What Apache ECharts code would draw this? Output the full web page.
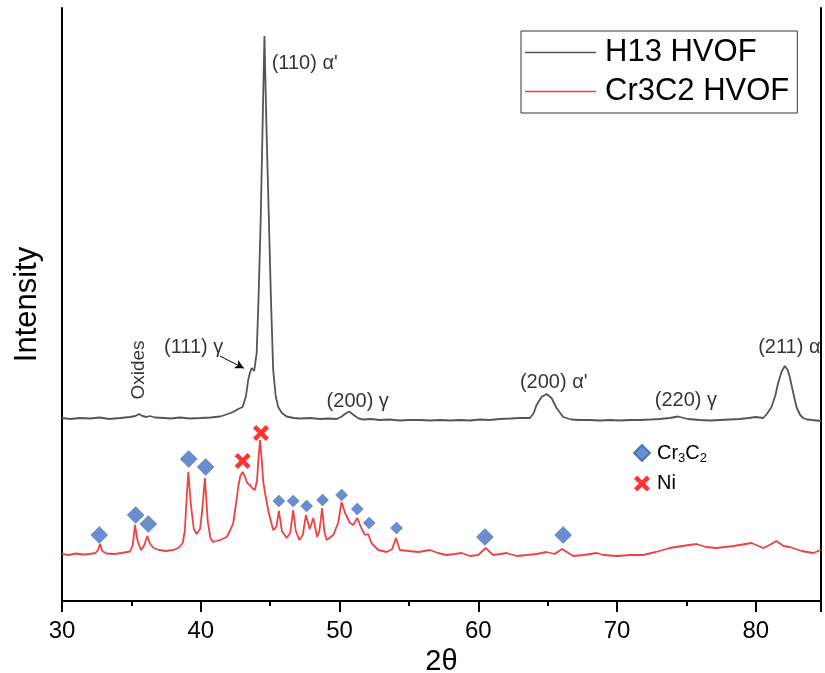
<!DOCTYPE html>
<html>
<head>
<meta charset="utf-8">
<script src="https://cdn.jsdelivr.net/npm/echarts@6/dist/echarts.min.js"></script>
<style>
  html, body { margin: 0; padding: 0; background: #fff; }
  #chart { width: 825px; height: 673px; }
</style>
</head>
<body>
<div id="chart"></div>
<script>
// 2theta (deg) vs intensity (a.u., stacked offset as in the figure)
const h13 = [
  [30, 183], [30.6, 182], [31.3, 183], [32.0, 182.5], [32.7, 183.5], [33.4, 182],
  [34.2, 183], [34.9, 184], [35.3, 185], [35.55, 187], [35.8, 185], [36.1, 184],
  [36.34, 185], [36.7, 183.5], [37.4, 183], [37.8, 182.5], [38.5, 183.5], [39.2, 182.5],
  [40.0, 183], [40.7, 183.5], [41.4, 184.5], [41.74, 186], [42.34, 189], [42.7, 192],
  [43.02, 194], [43.26, 205], [43.42, 221], [43.54, 228], [43.67, 233], [43.76, 231],
  [43.85, 230], [43.95, 240], [44.03, 248], [44.16, 301], [44.32, 381], [44.45, 471],
  [44.59, 565], [44.74, 471], [44.91, 381], [45.06, 301], [45.22, 231], [45.4, 205],
  [45.58, 194], [45.85, 188], [46.19, 184.5], [46.7, 183], [47.15, 182.5], [47.9, 183],
  [48.59, 182], [49.2, 182.5], [49.79, 182], [50.1, 184], [50.39, 187], [50.7, 189.5],
  [51.11, 185], [51.4, 182.5], [51.71, 181.5], [52.3, 182], [52.91, 181], [53.6, 181.5],
  [54.35, 180.5], [55.0, 181], [55.79, 181], [56.5, 180.5], [57.23, 181], [58.0, 180.5],
  [58.67, 181], [59.4, 180.5], [60.12, 181.5], [60.8, 181], [61.56, 182], [62.3, 182.5],
  [63.0, 183], [63.72, 183], [64.0, 188], [64.2, 196], [64.56, 204], [64.92, 207],
  [65.28, 203], [65.64, 193], [66.12, 184], [66.7, 181.5], [67.32, 181], [68.0, 181],
  [68.76, 180.5], [69.5, 181], [70.2, 180.5], [70.9, 181], [71.64, 181], [72.4, 181.5],
  [73.08, 182], [73.8, 183], [74.4, 184.5], [75.1, 182], [75.96, 181], [76.7, 180.5],
  [77.41, 181], [78.1, 181.5], [78.85, 182], [79.5, 183], [80.0, 184], [80.53, 183],
  [80.8, 187], [81.13, 194], [81.4, 205], [81.61, 218], [81.85, 229], [82.09, 235],
  [82.3, 231], [82.45, 224], [82.7, 208], [82.93, 194], [83.2, 186], [83.41, 183],
  [83.7, 181.5], [84.03, 181], [84.4, 180.5], [84.7, 180]
];

const cr3c2 = [
  [30, 47], [30.5, 46], [31.0, 47.5], [31.5, 46.5], [32.0, 47], [32.4, 48], [32.6, 51],
  [32.74, 57], [32.9, 50], [33.2, 47.5], [33.8, 47], [34.3, 48], [34.9, 49.5], [35.1, 56],
  [35.26, 76], [35.45, 60], [35.69, 51], [35.9, 55], [36.15, 65], [36.35, 57], [36.6, 53],
  [37.0, 51], [37.5, 50], [38.0, 51], [38.4, 53], [38.7, 58], [38.85, 70], [38.95, 95],
  [39.1, 129], [39.3, 95], [39.5, 72], [39.7, 67], [39.95, 72], [40.1, 90], [40.3, 123],
  [40.5, 80], [40.7, 63], [40.88, 59], [41.0, 60], [41.4, 61], [41.87, 64], [42.1, 70],
  [42.34, 78], [42.55, 98], [42.7, 114], [42.85, 125], [43.02, 129], [43.2, 124],
  [43.35, 118], [43.54, 116], [43.7, 113], [43.9, 111], [44.05, 120], [44.15, 140],
  [44.27, 161], [44.4, 140], [44.5, 120], [44.63, 108], [44.9, 88], [45.22, 71],
  [45.45, 74], [45.63, 90], [45.85, 70], [46.19, 63], [46.45, 68], [46.66, 91], [46.85, 70],
  [47.1, 61], [47.35, 66], [47.58, 86], [47.85, 72], [48.11, 83], [48.39, 64], [48.55, 70],
  [48.75, 93], [48.9, 70], [49.07, 61], [49.55, 66], [49.9, 78], [50.15, 99], [50.4, 88],
  [50.75, 78], [51.0, 76], [51.28, 83], [51.6, 72], [51.85, 66], [52.07, 67], [52.3, 58],
  [52.79, 51], [53.39, 49], [53.8, 52], [54.06, 63], [54.35, 51], [55.0, 50], [55.7, 49],
  [56.51, 51], [57.1, 48], [57.72, 46], [58.3, 47], [58.8, 48], [59.4, 45], [60.0, 46],
  [60.53, 53], [61.07, 46], [61.6, 47], [62.04, 48], [62.76, 45], [63.5, 46], [64.2, 47],
  [64.92, 49], [65.5, 47], [66.04, 52], [66.84, 45], [67.6, 46], [68.52, 48], [69.0, 46],
  [70.0, 45], [71.0, 46], [71.88, 46], [72.8, 49], [73.8, 53], [74.7, 55], [75.73, 57],
  [76.4, 54], [77.17, 53], [78.4, 55], [79.69, 58], [80.53, 53], [81.0, 56], [81.49, 60],
  [82.0, 55], [82.45, 54], [83.3, 50], [84.13, 48], [84.7, 51]
];

// phase markers placed above the peaks
const cr3c2PeaksMajor = [
  [32.69, 66], [35.31, 86], [36.22, 77], [39.13, 142], [40.35, 134], [60.48, 64], [66.12, 66]
];
const cr3c2PeaksMinor = [
  [45.63, 100], [46.66, 100], [47.63, 95], [48.78, 101], [50.15, 106], [51.28, 92],
  [52.14, 78], [54.11, 73]
];
const niPeaks = [[43.02, 140], [44.34, 168]];

// reflection labels (left edge of text, vertical centre)
const peakLabels = [
  ["(110) α'", 45.11, 538],
  ["(111) γ", 37.35, 254],
  ["(200) γ", 49.07, 200],
  ["(200) α'", 63.0, 219],
  ["(220) γ", 72.72, 201],
  ["(211) α", 80.17, 254]
];
const oxideLabel = [["Oxides", 35.5, 231]];
const arrow111 = [[41.38, 245], [43.11, 232.7]];

const font = "'Liberation Sans', Arial, sans-serif";
const xPath = "path://M2,0 L5,3 L8,0 L10,2 L7,5 L10,8 L8,10 L5,7 L2,10 L0,8 L3,5 L0,2 Z";

const chart = echarts.init(document.getElementById("chart"));
chart.setOption({
  animation: false,
  textStyle: { fontFamily: font },
  grid: { left: 62, right: 4, top: 8, bottom: 72, containLabel: false, outerBoundsMode: "none" },
  legend: [
    {
      data: ["H13 HVOF", "Cr3C2 HVOF"],
      orient: "vertical",
      left: 521,
      top: 31,
      borderColor: "#333",
      borderWidth: 1,
      padding: [6, 8, 6, 4],
      icon: "rect",
      itemWidth: 71,
      itemHeight: 1.5,
      itemGap: 8,
      textStyle: { fontSize: 31, lineHeight: 31, color: "#000", fontFamily: font, padding: [0, 0, 0, 4] }
    },
    {
      data: ["Cr3C2", "Ni"],
      orient: "vertical",
      left: 633,
      top: 443,
      padding: 0,
      itemWidth: 16,
      itemHeight: 16,
      itemGap: 9,
      formatter: name => (name === "Cr3C2" ? "Cr{sub|3}C{sub|2}" : name),
      textStyle: {
        fontSize: 20,
        color: "#000",
        fontFamily: font,
        padding: [0, 0, 0, 2],
        rich: { sub: { fontSize: 13, padding: [10, 0, 0, 0], fontFamily: font, color: "#000" } }
      }
    }
  ],
  xAxis: [
    {
      type: "value",
      min: 30,
      max: 84.7,
      interval: 10,
      position: "bottom",
      name: "2θ",
      nameLocation: "middle",
      nameGap: 33,
      nameTextStyle: { fontSize: 29, color: "#000", fontFamily: font },
      axisLine: { lineStyle: { color: "#000", width: 2 } },
      axisTick: { inside: false, length: 11, lineStyle: { color: "#000", width: 2 } },
      minorTick: { show: true, splitNumber: 2, length: 5, lineStyle: { color: "#000", width: 2 } },
      axisLabel: { fontSize: 24, color: "#000", margin: 18, fontFamily: font, showMaxLabel: false },
      splitLine: { show: false }
    },
    {
      type: "value",
      min: 30,
      max: 84.7,
      interval: 10,
      position: "top",
      axisLine: { lineStyle: { color: "#000", width: 2 } },
      axisTick: { inside: true, length: 11, lineStyle: { color: "#000", width: 2 } },
      minorTick: { show: true, splitNumber: 2, length: 5, lineStyle: { color: "#000", width: 2 } },
      axisLabel: { show: false },
      splitLine: { show: false }
    }
  ],
  yAxis: [
    {
      type: "value",
      min: 0,
      max: 593,
      position: "left",
      name: "Intensity",
      nameLocation: "middle",
      nameRotate: 90,
      nameGap: 19,
      nameTextStyle: { fontSize: 31, color: "#000", fontFamily: font },
      axisLine: { show: true, lineStyle: { color: "#000", width: 2 } },
      axisTick: { show: false },
      axisLabel: { show: false },
      splitLine: { show: false }
    },
    {
      type: "value",
      min: 0,
      max: 593,
      position: "right",
      axisLine: { show: true, lineStyle: { color: "#000", width: 2 } },
      axisTick: { show: false },
      axisLabel: { show: false },
      splitLine: { show: false }
    }
  ],
  series: [
    {
      name: "H13 HVOF",
      type: "line",
      data: h13,
      symbol: "none",
      color: "#555555",
      lineStyle: { color: "#555555", width: 1.8 },
      z: 2
    },
    {
      name: "Cr3C2 HVOF",
      type: "line",
      data: cr3c2,
      symbol: "none",
      color: "#f04141",
      lineStyle: { color: "#f04141", width: 1.8 },
      z: 2
    },
    {
      name: "Cr3C2",
      type: "scatter",
      data: cr3c2PeaksMajor,
      symbol: "diamond",
      symbolSize: [17, 17],
      itemStyle: { color: "#4472c4", borderColor: "#3a62a8", borderWidth: 0.5 },
      z: 4
    },
    {
      name: "Cr3C2",
      type: "scatter",
      data: cr3c2PeaksMinor,
      symbol: "diamond",
      symbolSize: [12, 12],
      itemStyle: { color: "#4472c4", borderColor: "#3a62a8", borderWidth: 0.5 },
      z: 4
    },
    {
      name: "Ni",
      type: "scatter",
      data: niPeaks,
      symbol: xPath,
      symbolSize: 16,
      itemStyle: { color: "#ff0000" },
      z: 4
    },
    {
      name: "labels",
      type: "scatter",
      silent: true,
      symbolSize: 0,
      data: peakLabels.map(d => ({ name: d[0], value: [d[1], d[2]] })),
      label: {
        show: true,
        position: "right",
        distance: 0,
        formatter: p => p.name,
        fontSize: 20,
        color: "#000",
        fontFamily: font
      },
      markLine: {
        silent: true,
        symbol: ["none", "arrow"],
        symbolSize: [7, 9],
        label: { show: false },
        lineStyle: { color: "#000", width: 1, type: "solid" },
        data: [[{ coord: arrow111[0] }, { coord: arrow111[1] }]]
      },
      z: 5
    },
    {
      name: "oxides",
      type: "scatter",
      silent: true,
      symbolSize: 0,
      data: oxideLabel.map(d => ({ name: d[0], value: [d[1], d[2]] })),
      label: {
        show: true,
        position: "inside",
        rotate: 90,
        formatter: p => p.name,
        fontSize: 19,
        color: "#000",
        fontFamily: font
      },
      z: 5
    }
  ]
});
</script>
</body>
</html>
